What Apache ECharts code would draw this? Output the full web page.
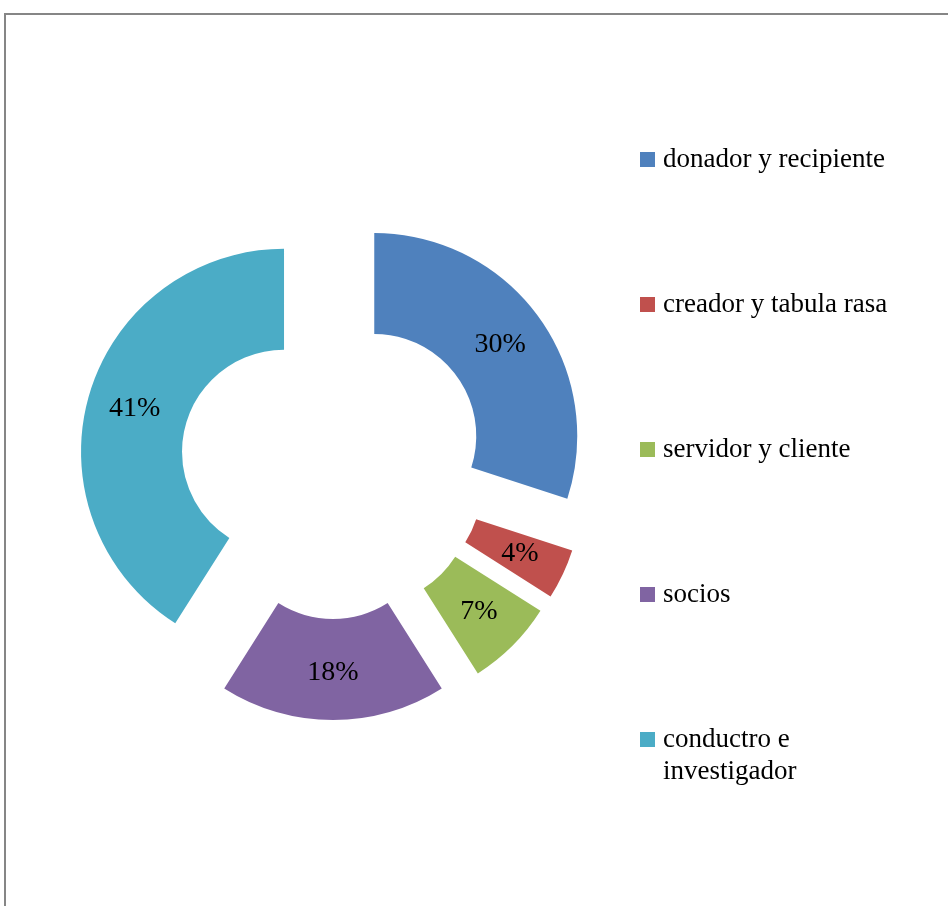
<!DOCTYPE html>
<html>
<head>
<meta charset="utf-8">
<script src="https://cdn.jsdelivr.net/npm/echarts@6/dist/echarts.min.js"></script>
<style>
  html, body { margin: 0; padding: 0; background: #fff; }
  #chart { width: 948px; height: 906px; }
</style>
</head>
<body>
<div id="chart"></div>
<script>
// categories and shares (%)
const categories = [
  "donador y recipiente",
  "creador y tabula rasa",
  "servidor y cliente",
  "socios",
  "conductro e\ninvestigador"
];
const shares = [30, 4, 7, 18, 41];
const colors = ["#4F81BD", "#C0504D", "#9BBB59", "#8064A2", "#4BACC6"];

const chart = echarts.init(document.getElementById("chart"));

const serif = "'Liberation Serif', 'DejaVu Serif', serif";

const option = {
  backgroundColor: "#fff",
  animation: false,
  graphic: [
    {
      // outer chart frame
      type: "rect",
      shape: { x: 5, y: 14, width: 1000, height: 1000 },
      style: { fill: "none", stroke: "#868686", lineWidth: 2 },
      silent: true
    }
  ],
  legend: {
    orient: "vertical",
    left: 640,
    top: 146,
    padding: 0,
    itemWidth: 15,
    itemHeight: 15,
    itemGap: 118,
    icon: "rect",
    selectedMode: false,
    // rich text so the two-line entry keeps its first line next to the icon
    formatter: (name) => name.split("\n").map((s) => "{t|" + s + "}").join("\n"),
    textStyle: {
      padding: [0, 0, 0, 3],
      rich: {
        t: {
          fontFamily: serif,
          fontSize: 27,
          lineHeight: 32,
          color: "#000"
        }
      }
    },
    data: categories.map((name, i) =>
      i === categories.length - 1
        ? { name, textStyle: { padding: [0, 0, -32, 3] } }
        : { name }
    )
  },
  series: [
    {
      type: "pie",
      center: [333, 466],
      radius: [102, 203],
      startAngle: 90,
      clockwise: true,
      selectedMode: "multiple",
      selectedOffset: 51,
      emphasis: { disabled: true },
      label: {
        position: "inside",
        formatter: "{c}%",
        fontFamily: serif,
        fontSize: 28,
        color: "#000",
        padding: [6, 0, 0, 0]
      },
      labelLine: { show: false },
      data: categories.map((name, i) => ({
        name,
        value: shares[i],
        selected: true,
        itemStyle: { color: colors[i] },
        select: { itemStyle: { color: colors[i] } }
      }))
    }
  ]
};

chart.setOption(option);
</script>
</body>
</html>
